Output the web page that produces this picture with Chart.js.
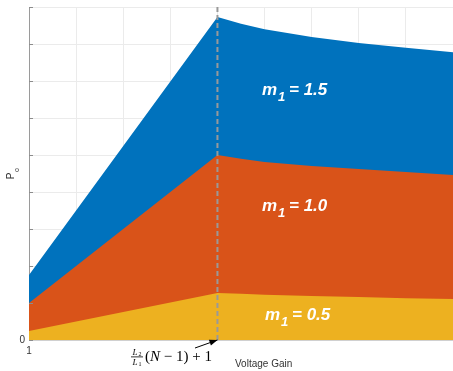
<!DOCTYPE html>
<html>
<head>
<meta charset="utf-8">
<script src="https://cdn.jsdelivr.net/npm/chart.js@4"></script>
<style>
html,body{margin:0;padding:0;background:#fff;}
#wrap{width:453px;height:371px;position:relative;}
</style>
</head>
<body>
<div id="wrap"><canvas id="c" width="453" height="371"></canvas></div>
<script>
// Data
const xValues = [1, 5, 5.5, 6, 7, 8, 9, 10];
const m15 = [1.76, 8.73, 8.55, 8.40, 8.19, 8.03, 7.90, 7.78];
const m10 = [1.00, 5.00, 4.90, 4.81, 4.70, 4.62, 4.54, 4.46];
const m05 = [0.24, 1.27, 1.25, 1.22, 1.19, 1.16, 1.13, 1.11];
const seriesLabels = ['m1 = 0.5', 'm1 = 1.0', 'm1 = 1.5'];
const xTickLabels = {1: '1'};
const yTickLabels = {0: '0'};
const peakX = 5;

const pts = (ys) => xValues.map((x, i) => ({x: x, y: ys[i]}));

const overlay = {
  id: 'overlay',
  afterDatasetsDraw(chart) {
    const ctx = chart.ctx, xs = chart.scales.x, ys = chart.scales.y, a = chart.chartArea;
    ctx.save();
    // inward tick marks on left axis
    ctx.strokeStyle = '#8c8c8c'; ctx.lineWidth = 1;
    for (let v = 0; v <= 9; v++) {
      const py = Math.round(ys.getPixelForValue(v)) + 0.5;
      ctx.beginPath(); ctx.moveTo(a.left, py); ctx.lineTo(a.left + 4, py); ctx.stroke();
    }
    // dashed line at the peak
    const px = xs.getPixelForValue(peakX);
    ctx.strokeStyle = '#999999'; ctx.lineWidth = 2; ctx.setLineDash([5, 3]);
    ctx.beginPath(); ctx.moveTo(px, a.top); ctx.lineTo(px, a.bottom); ctx.stroke();
    ctx.setLineDash([]);
    // series labels
    const lab = (val, x, y) => {
      ctx.fillStyle = '#ffffff';
      ctx.textBaseline = 'alphabetic'; ctx.textAlign = 'left';
      ctx.font = 'italic bold 17px "Liberation Sans", Arial, sans-serif';
      ctx.fillText('m', x, y);
      ctx.font = 'italic bold 13px "Liberation Sans", Arial, sans-serif';
      ctx.fillText('1', x + 16, y + 6);
      ctx.font = 'italic bold 17px "Liberation Sans", Arial, sans-serif';
      ctx.fillText('= ' + val, x + 27, y);
    };
    lab('1.5', 262, 95);
    lab('1.0', 262, 211);
    lab('0.5', 265, 320);
    // arrow
    const ax0 = 195, ay0 = 348, ax1 = px, ay1 = a.bottom;
    ctx.strokeStyle = '#000'; ctx.fillStyle = '#000'; ctx.lineWidth = 1;
    ctx.beginPath(); ctx.moveTo(ax0, ay0); ctx.lineTo(ax1, ay1); ctx.stroke();
    const ang = Math.atan2(ay1 - ay0, ax1 - ax0);
    ctx.beginPath();
    ctx.moveTo(ax1, ay1);
    ctx.lineTo(ax1 - 8 * Math.cos(ang) + 3 * Math.sin(ang), ay1 - 8 * Math.sin(ang) - 3 * Math.cos(ang));
    ctx.lineTo(ax1 - 8 * Math.cos(ang) - 3 * Math.sin(ang), ay1 - 8 * Math.sin(ang) + 3 * Math.cos(ang));
    ctx.closePath(); ctx.fill();
    // LaTeX-like label
    ctx.fillStyle = '#000';
    ctx.textAlign = 'center';
    ctx.font = 'italic 9px "Liberation Serif", "DejaVu Serif", serif';
    ctx.fillText('L', 135, 355);
    ctx.fillText('L', 135, 365);
    ctx.font = '6px "Liberation Serif", serif';
    ctx.fillText('2', 140, 356);
    ctx.fillText('1', 140, 366);
    ctx.fillRect(131, 356.5, 12, 0.8);
    ctx.textAlign = 'left';
    let tx = 145; const tb = 361;
    const seg = (t, f) => { ctx.font = f; ctx.fillText(t, tx, tb); tx += ctx.measureText(t).width; };
    seg('(', '15px "Liberation Serif", serif');
    seg('N', 'italic 15px "Liberation Serif", serif');
    seg(' \u2212 1) + 1', '15px "Liberation Serif", serif');
    // x axis title
    ctx.fillStyle = '#333';
    ctx.font = '10px "Liberation Sans", Arial, sans-serif';
    ctx.fillText('Voltage Gain', 235, 367);
    // y axis title P_o
    ctx.save();
    ctx.translate(14, 176); ctx.rotate(-Math.PI / 2);
    ctx.textAlign = 'center';
    ctx.font = '10px "Liberation Sans", Arial, sans-serif';
    ctx.fillText('P', 0, 0);
    ctx.font = '7px "Liberation Sans", Arial, sans-serif';
    ctx.fillText('o', 6, 5);
    ctx.restore();
    ctx.restore();
  }
};

new Chart(document.getElementById('c'), {
  type: 'line',
  data: {
    datasets: [
      {label: seriesLabels[0], data: pts(m05), backgroundColor: '#EDB120', borderColor: '#EDB120', borderWidth: 0, fill: 'origin', pointRadius: 0, tension: 0},
      {label: seriesLabels[1], data: pts(m10), backgroundColor: '#D95319', borderColor: '#D95319', borderWidth: 0, fill: 'origin', pointRadius: 0, tension: 0},
      {label: seriesLabels[2], data: pts(m15), backgroundColor: '#0072BD', borderColor: '#0072BD', borderWidth: 0, fill: 'origin', pointRadius: 0, tension: 0}
    ]
  },
  options: {
    responsive: false, animation: false,
    layout: {autoPadding: false, padding: {top: 7, right: 0, left: 0, bottom: 0}},
    plugins: {legend: {display: false}, tooltip: {enabled: false}},
    scales: {
      x: {
        type: 'linear', min: 1, max: 10,
        afterFit(s) { s.height = 31; s.paddingLeft = 0; s.paddingRight = 0; },
        grid: {color: '#ebebeb', drawTicks: false, lineWidth: 1},
        border: {color: '#d0d0d0'},
        ticks: {stepSize: 1, padding: 5, color: '#333', maxRotation: 0, font: {size: 10, family: '"Liberation Sans", Arial, sans-serif'},
          callback: (v) => xTickLabels[v] !== undefined ? xTickLabels[v] : ''}
      },
      y: {
        min: 0, max: 9,
        afterFit(s) { s.width = 29; s.paddingTop = 0; s.paddingBottom = 0; },
        grid: {color: '#ebebeb', drawTicks: false, lineWidth: 1},
        border: {color: '#9a9a9a'},
        ticks: {stepSize: 1, padding: 4, color: '#333', font: {size: 10, family: '"Liberation Sans", Arial, sans-serif'},
          callback: (v) => yTickLabels[v] !== undefined ? yTickLabels[v] : ''}
      }
    }
  },
  plugins: [overlay]
});
</script>
</body>
</html>
